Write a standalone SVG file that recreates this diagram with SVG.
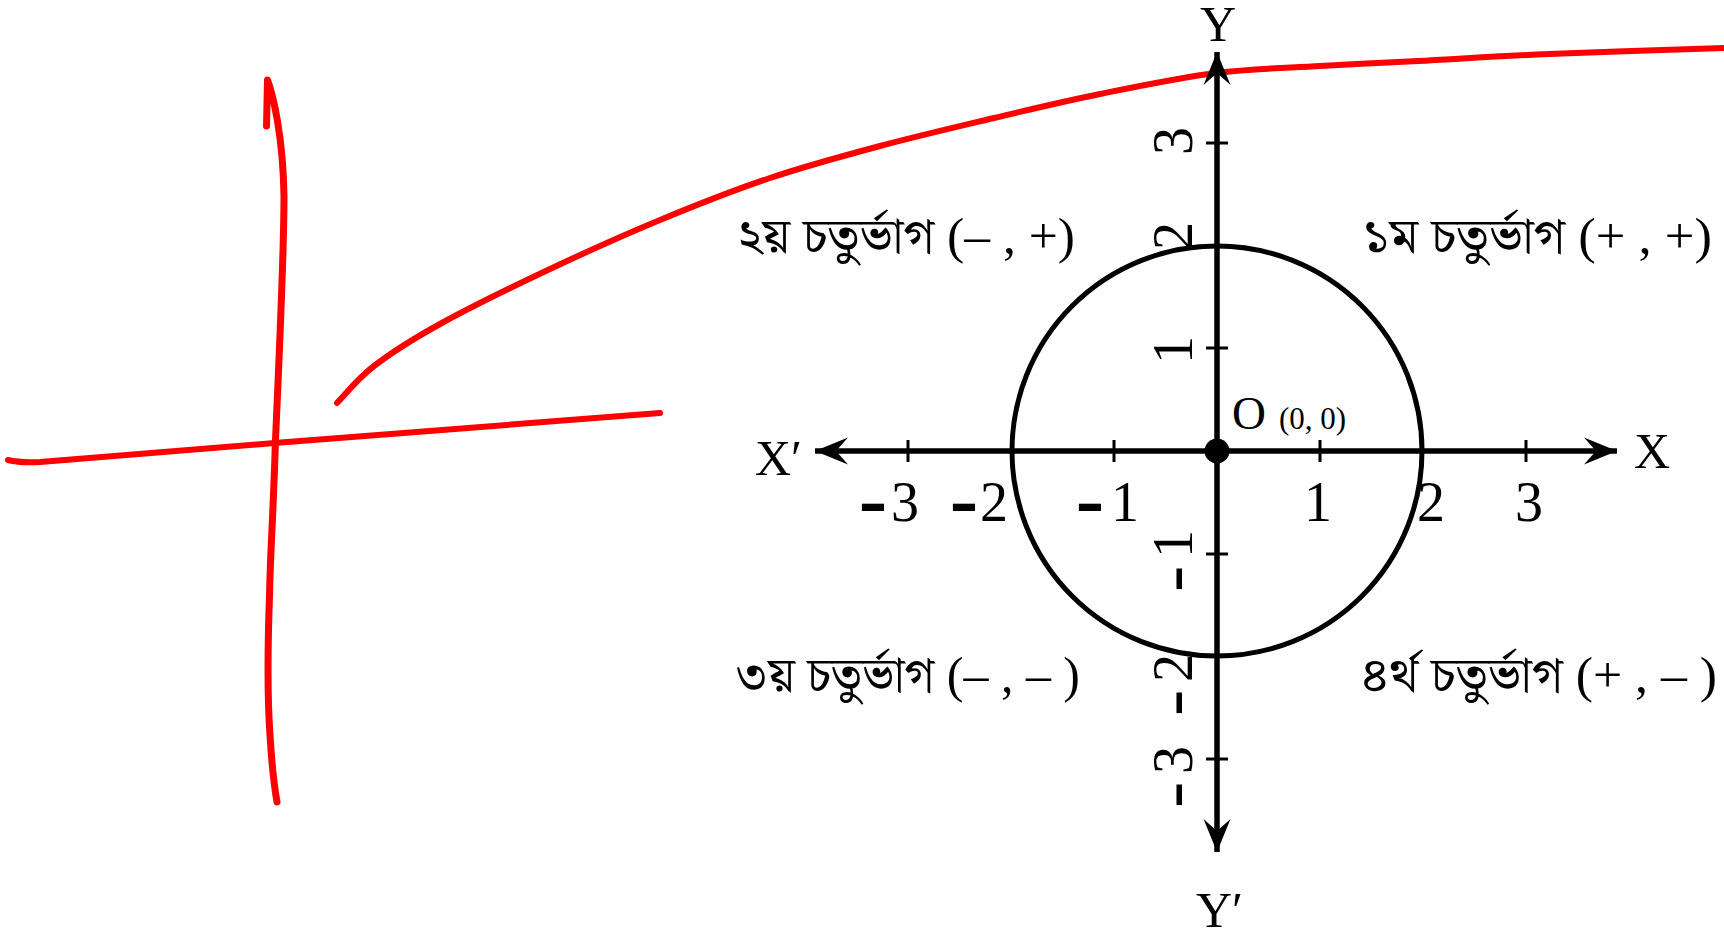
<svg xmlns="http://www.w3.org/2000/svg" width="1724" height="932" viewBox="0 0 1724 932">
<style>
  .bg { fill: #ffffff; }
  .axis { stroke: #000; stroke-width: 5.5; fill: none; }
  .tick { stroke: #000; stroke-width: 3; fill: none; }
  .circ { stroke: #000; stroke-width: 5; fill: none; }
  .red { stroke: #ff0000; fill: none; stroke-linecap: round; stroke-linejoin: round; }
  .lbl { font-family: "Liberation Serif", "DejaVu Serif", serif; font-size: 50px; fill: #000; }
  .num { font-family: "Liberation Serif", "DejaVu Serif", serif; font-size: 56px; fill: #000; }
  .neg { font-family: "Liberation Sans", "DejaVu Sans", sans-serif; font-weight: bold; font-size: 62px; }
  .negy { font-family: "Liberation Sans", "DejaVu Sans", sans-serif; font-weight: bold; font-size: 46px; }
  .org { font-family: "Liberation Serif", "DejaVu Serif", serif; fill: #000; }
  .quad { font-family: "Liberation Serif", "Noto Serif Bengali", "Noto Sans Bengali", "Noto Sans", serif; font-size: 50px; fill: #000; }
</style>
<defs>
  <marker id="arr" viewBox="-34 -15 36 30" markerWidth="36" markerHeight="30" refX="0" refY="0" orient="auto-start-reverse" markerUnits="userSpaceOnUse">
    <path d="M0,0 L-33,-13.5 L-21,0 L-33,13.5 Z" fill="#000"/>
  </marker>
</defs>
<rect class="bg" x="0" y="0" width="1724" height="932"/>

<g id="red-strokes">
  <path class="red" stroke-width="7" d="M266.5,126 L267.5,80 C273,95 283,135 284,196 C284,260 278,380 275.4,443 C273,520 270,560 269.6,593 C267.5,650 267.5,700 270,735 C271.5,760 274,785 277,802"/>
  <path class="red" stroke-width="6" d="M8,460 Q20,463 40,462 L274.5,443 L660,413"/>
  <path class="red" stroke-width="6" d="M337,403 C343.2,396.8 356.8,379.2 374,366 C391.2,352.8 410.7,340.2 440,324 C469.3,307.8 513.3,286.3 550,269 C586.7,251.7 623.3,235.2 660,220 C696.7,204.8 733.3,190.3 770,178 C806.7,165.7 842.7,156 880,146 C917.3,136 957.3,126.7 994,118 C1030.7,109.3 1063,101.5 1100,94 C1137,86.5 1179.3,77.7 1216,73 C1252.7,68.3 1286.3,68 1320,66 C1353.7,64 1379.8,63 1418,61 C1456.2,59 1498,56.2 1549,54 C1600,51.8 1694.8,49 1724,48"/>
</g>

<g id="connectors">
  <line id="x-axis" class="axis" x1="815" y1="451" x2="1617" y2="451" marker-start="url(#arr)" marker-end="url(#arr)"/>
  <line id="y-axis" class="axis" x1="1217" y1="852" x2="1217" y2="52" marker-start="url(#arr)" marker-end="url(#arr)"/>
  <g id="x-ticks">
    <line class="tick" x1="908" y1="440" x2="908" y2="462"/>
    <line class="tick" x1="1114" y1="440" x2="1114" y2="462"/>
    <line class="tick" x1="1320" y1="440" x2="1320" y2="462"/>
    <line class="tick" x1="1526" y1="440" x2="1526" y2="462"/>
  </g>
  <g id="y-ticks">
    <line class="tick" x1="1206" y1="143" x2="1228" y2="143"/>
    <line class="tick" x1="1206" y1="348" x2="1228" y2="348"/>
    <line class="tick" x1="1206" y1="554" x2="1228" y2="554"/>
    <line class="tick" x1="1206" y1="759" x2="1228" y2="759"/>
  </g>
</g>

<g id="circle">
  <circle class="circ" cx="1217" cy="451" r="205"/>
</g>

<g id="origin">
  <circle cx="1217" cy="451" r="12.5" fill="#000"/>
  <text class="org" x="1232" y="429" font-size="47">O</text>
  <text class="org" x="1279" y="429" font-size="31">(0, 0)</text>
</g>

<g id="axis-labels">
  <text class="lbl" x="1634" y="468">X</text>
  <text class="lbl" x="755" y="475">X′</text>
  <text class="lbl" x="1218" y="41" text-anchor="middle">Y</text>
  <text class="lbl" x="1196" y="927">Y′</text>
</g>

<g id="x-tick-labels">
  <text class="num"><tspan class="neg" x="858.5" y="523" textLength="29" lengthAdjust="spacingAndGlyphs">-</tspan><tspan x="891" y="521">3</tspan></text>
  <text class="num"><tspan class="neg" x="949.5" y="523" textLength="29" lengthAdjust="spacingAndGlyphs">-</tspan><tspan x="980" y="521">2</tspan></text>
  <text class="num"><tspan class="neg" x="1075.5" y="523" textLength="29" lengthAdjust="spacingAndGlyphs">-</tspan><tspan x="1111" y="521">1</tspan></text>
  <text class="num" x="1304" y="521">1</text>
  <text class="num" x="1417" y="521">2</text>
  <text class="num" x="1515" y="521">3</text>
</g>

<g id="y-tick-labels" transform="translate(1192,0) rotate(-90)">
  <text class="num" x="-155" y="0">3</text>
  <text class="num" x="-250" y="0">2</text>
  <text class="num" x="-364" y="0">1</text>
  <text class="num"><tspan class="negy" x="-592.3" y="-1" textLength="27" lengthAdjust="spacingAndGlyphs">-</tspan><tspan x="-558" y="0">1</tspan></text>
  <text class="num"><tspan class="negy" x="-716.3" y="-1" textLength="27" lengthAdjust="spacingAndGlyphs">-</tspan><tspan x="-682" y="0">2</tspan></text>
  <text class="num"><tspan class="negy" x="-808.3" y="-1" textLength="27" lengthAdjust="spacingAndGlyphs">-</tspan><tspan x="-774" y="0">3</tspan></text>
</g>

<g id="quadrant-2">
  <text class="quad" x="737" y="253" textLength="338" lengthAdjust="spacingAndGlyphs">২য় চতুর্ভাগ (– , +)</text>
</g>
<g id="quadrant-1">
  <text class="quad" x="1362" y="253" textLength="350" lengthAdjust="spacingAndGlyphs">১ম চতুর্ভাগ (+ , +)</text>
</g>
<g id="quadrant-3">
  <text class="quad" x="735" y="692" textLength="345" lengthAdjust="spacingAndGlyphs">৩য় চতুর্ভাগ (– , – )</text>
</g>
<g id="quadrant-4">
  <text class="quad" x="1360" y="692" textLength="357" lengthAdjust="spacingAndGlyphs">৪র্থ চতুর্ভাগ (+ , – )</text>
</g>
</svg>
